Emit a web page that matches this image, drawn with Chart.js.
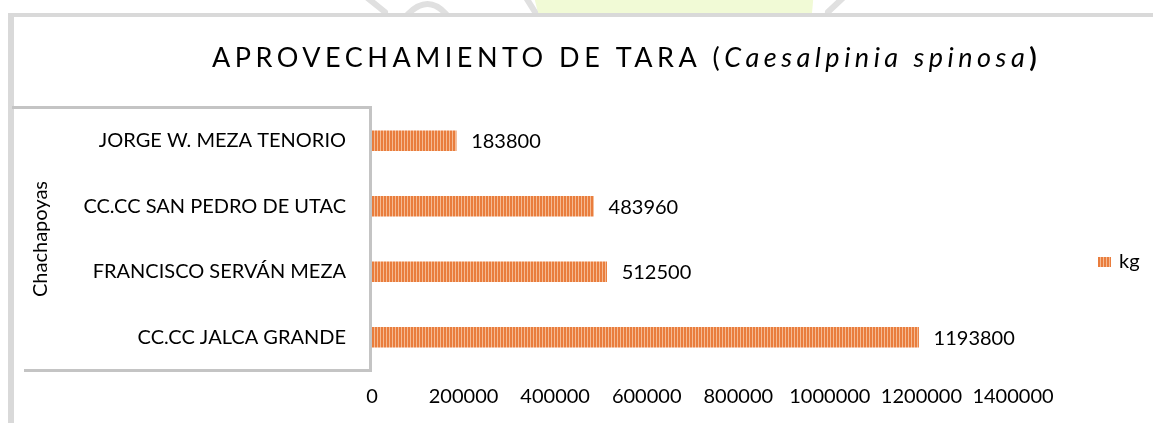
<!DOCTYPE html>
<html>
<head>
<meta charset="utf-8">
<script src="https://cdn.jsdelivr.net/npm/chart.js@4/dist/chart.umd.min.js"></script>
<style>
  html,body{margin:0;padding:0;background:#fff;}
  #wrap{width:1153px;height:423px;position:relative;}
</style>
</head>
<body>
<div id="wrap"><canvas id="c" width="1153" height="423"></canvas></div>
<script>
// ---- data ----
const categories = ['JORGE W. MEZA TENORIO', 'CC.CC SAN PEDRO DE UTAC', 'FRANCISCO SERVÁN MEZA', 'CC.CC JALCA GRANDE'];
const kgValues = [183800, 483960, 512500, 1193800];
const seriesLabel = 'kg';
const groupLabel = 'Chachapoyas';
const xTickValues = [0, 200000, 400000, 600000, 800000, 1000000, 1200000, 1400000];
const titleMain = 'APROVECHAMIENTO DE TARA (';
const titleItalic = 'Caesalpinia spinosa';
const titleEnd = ')';

// ---- styles ----
const FONT = 'Lato, "Open Sans", sans-serif';
const TEXT = '#000000';

function makePattern(ctx) {
  const p = document.createElement('canvas');
  p.width = 3; p.height = 4;
  const g = p.getContext('2d');
  g.fillStyle = '#E97D3D'; g.fillRect(0, 0, 2, 4);
  g.fillStyle = '#F5BA92'; g.fillRect(2, 0, 1, 4);
  return ctx.createPattern(p, 'repeat');
}

const canvas = document.getElementById('c');
const ctx0 = canvas.getContext('2d');
const barPattern = makePattern(ctx0);

const decoPlugin = {
  id: 'deco',
  beforeDraw(chart) {
    const ctx = chart.ctx;
    ctx.save();
    // faint watermark at the very top
    ctx.beginPath(); ctx.rect(0, 0, 1153, 13); ctx.clip();
    ctx.fillStyle = '#F1FAD6';
    ctx.beginPath();
    ctx.moveTo(530, -20); ctx.lineTo(815, -20); ctx.lineTo(812, 13); ctx.lineTo(538, 13); ctx.closePath();
    ctx.fill();
    ctx.strokeStyle = '#E0E0E0'; ctx.lineWidth = 6; ctx.lineCap = 'round';
    ctx.beginPath(); ctx.moveTo(365, -4); ctx.lineTo(385, 12); ctx.stroke();
    ctx.beginPath(); ctx.moveTo(408, 14); ctx.quadraticCurveTo(428, -6, 446, 14); ctx.stroke();
    ctx.beginPath(); ctx.moveTo(525, -4); ctx.lineTo(535, 12); ctx.stroke();
    ctx.beginPath(); ctx.moveTo(845, -4); ctx.lineTo(828, 12); ctx.stroke();
    ctx.restore();

    ctx.save();
    // outer frame
    ctx.fillStyle = '#D9D9D9';
    ctx.fillRect(8, 13, 1145, 4);
    ctx.fillRect(8, 13, 6, 410);
    ctx.restore();

    // title
    ctx.save();
    ctx.fillStyle = TEXT;
    ctx.textBaseline = 'alphabetic';
    ctx.textAlign = 'left';
    ctx.letterSpacing = '4.5px';
    let x = 212;
    const y = 67;
    ctx.font = '27px ' + FONT;
    ctx.fillText(titleMain, x, y);
    x += ctx.measureText(titleMain).width;
    ctx.font = 'italic 27px ' + FONT;
    ctx.fillText(titleItalic, x, y);
    x += ctx.measureText(titleItalic).width;
    ctx.font = 'bold 27px ' + FONT;
    ctx.fillText(titleEnd, x, y);
    ctx.restore();
  },
  afterDraw(chart) {
    const ctx = chart.ctx;
    const a = chart.chartArea;
    ctx.save();
    // category box
    ctx.fillStyle = '#C4C4C4';
    ctx.fillRect(12, a.top - 2, a.left - 12, 3);
    ctx.fillRect(a.left - 3, a.top - 2, 3, a.bottom - a.top + 4);
    ctx.fillRect(24, a.bottom - 1, a.left - 24, 3);
    // group label
    ctx.fillStyle = TEXT;
    ctx.font = '20px ' + FONT;
    ctx.textAlign = 'center';
    ctx.textBaseline = 'middle';
    ctx.translate(41, (a.top + a.bottom) / 2);
    ctx.rotate(-Math.PI / 2);
    ctx.fillText(groupLabel, 0, 0);
    ctx.restore();

    // legend
    ctx.save();
    ctx.fillStyle = barPattern;
    ctx.fillRect(1098, 257, 13, 10);
    ctx.fillStyle = TEXT;
    ctx.font = '20px ' + FONT;
    ctx.textAlign = 'left';
    ctx.textBaseline = 'middle';
    ctx.fillText(chart.data.datasets[0].label, 1119, 262);
    ctx.restore();
  },
  afterDatasetsDraw(chart) {
    const ctx = chart.ctx;
    const meta = chart.getDatasetMeta(0);
    const ds = chart.data.datasets[0];
    ctx.save();
    ctx.fillStyle = TEXT;
    ctx.font = '20px ' + FONT;
    ctx.textAlign = 'left';
    ctx.textBaseline = 'middle';
    meta.data.forEach((bar, i) => {
      ctx.fillText(String(ds.data[i]), bar.x + 15, bar.y + 1);
    });
    ctx.restore();
  }
};

new Chart(canvas, {
  type: 'bar',
  data: {
    labels: categories,
    datasets: [{
      label: seriesLabel,
      data: kgValues,
      backgroundColor: barPattern,
      borderWidth: 0,
      barThickness: 20
    }]
  },
  options: {
    indexAxis: 'y',
    responsive: false,
    animation: false,
    devicePixelRatio: 1,
    layout: { padding: { top: 108, right: 140, left: 0, bottom: 0 } },
    plugins: {
      legend: { display: false },
      title: { display: false },
      tooltip: { enabled: false }
    },
    scales: {
      x: {
        min: 0,
        max: 1400000,
        afterBuildTicks(scale) { scale.ticks = xTickValues.map(v => ({ value: v })); },
        grid: { display: false, drawTicks: false },
        border: { display: false },
        ticks: {
          color: TEXT,
          font: { family: FONT, size: 20 },
          padding: 15,
          maxRotation: 0,
          autoSkip: false,
          callback: v => String(v)
        },
        afterFit(scale) { scale.height = 53; }
      },
      y: {
        grid: { display: false, drawTicks: false },
        border: { display: false },
        ticks: {
          color: TEXT,
          font: { family: FONT, size: 20 },
          padding: 26,
          autoSkip: false
        },
        afterFit(scale) { scale.width = 372; }
      }
    }
  },
  plugins: [decoPlugin]
});
</script>
</body>
</html>
